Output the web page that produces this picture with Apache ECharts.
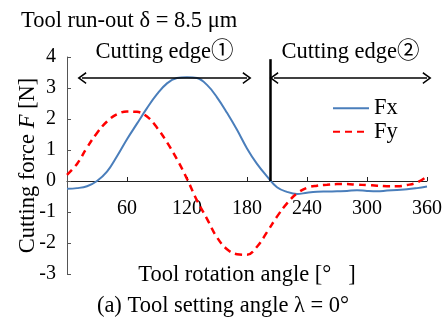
<!DOCTYPE html>
<html>
<head>
<meta charset="utf-8">
<script src="https://cdn.jsdelivr.net/npm/echarts@6/dist/echarts.min.js"></script>
<style>
  html, body { margin: 0; padding: 0; background: #fff; }
  #chart { width: 446px; height: 320px; }
</style>
</head>
<body>
<div id="chart"></div>
<script>
// Tool rotation angle (deg) sampled every 10 deg
const angles = [0, 10, 20, 30, 40, 50, 60, 70, 80, 90, 100, 110, 120, 130, 140, 150, 160, 170, 180,
  190, 200, 210, 220, 230, 240, 250, 260, 270, 280, 290, 300, 310, 320, 330, 340, 350, 360];
// cutting force [N]
const fx = [-0.25, -0.23, -0.17, 0.0, 0.3, 0.8, 1.35, 1.85, 2.35, 2.8, 3.15, 3.32, 3.35, 3.32, 3.1, 2.7, 2.2, 1.65, 1.05,
  0.55, 0.15, -0.2, -0.35, -0.42, -0.38, -0.35, -0.34, -0.33, -0.32, -0.3, -0.32, -0.33, -0.31, -0.29, -0.27, -0.23, -0.18];
const fy = [0.2, 0.55, 1.08, 1.55, 1.92, 2.15, 2.24, 2.23, 2.08, 1.72, 1.25, 0.7, 0.07, -0.63, -1.22, -1.82, -2.2, -2.36, -2.38,
  -2.12, -1.65, -1.15, -0.72, -0.4, -0.22, -0.15, -0.12, -0.1, -0.1, -0.12, -0.13, -0.15, -0.17, -0.17, -0.13, -0.05, 0.15];
const xTicks = [0, 360, 60];   // min, max, interval
const yTicks = [-3, 4, 1];
const edgeChange = 203;          // boundary between cutting edges
const arrowLevel = 3.32;
const edge1 = [15, 180];
const edge2 = [207, 360];

const serif = '"Liberation Serif", "Times New Roman", "Noto Sans CJK JP", serif';
const chevron = 'path://M0,10 L6,0 L12,10 L10.6,10.9 L6,3.2 L1.4,10.9 Z';
const big = 22.5;

const chart = echarts.init(document.getElementById('chart'));

chart.setOption({
  animation: false,
  textStyle: { fontFamily: serif, color: '#000' },
  title: [
    { text: 'Tool run-out δ = 8.5 μm', left: 16, top: 5,
      textStyle: { fontFamily: serif, fontSize: big, fontWeight: 'normal', color: '#000' } },
    { text: '(a) Tool setting angle λ = 0°', left: 'center', top: 290,
      textStyle: { fontFamily: serif, fontSize: big, fontWeight: 'normal', color: '#000' } }
  ],
  legend: {
    orient: 'vertical', left: 327, top: 92, itemWidth: 36, itemHeight: 12, itemGap: 1,
    itemStyle: { opacity: 0 },
    textStyle: { fontFamily: serif, fontSize: big, color: '#000' },
    data: ['Fx', 'Fy']
  },
  grid: { left: 67, right: 19, top: 57, bottom: 46, containLabel: false, outerBoundsMode: 'none' },
  xAxis: {
    type: 'value', min: xTicks[0], max: xTicks[1], interval: xTicks[2],
    position: 'bottom', offset: -93,
    name: 'Tool rotation angle [°   ]', nameLocation: 'middle', nameGap: 83, nameMoveOverlap: false,
    nameTextStyle: { fontFamily: serif, fontSize: big, color: '#000' },
    axisLine: { onZero: false, lineStyle: { color: '#222', width: 1 } },
    axisTick: { inside: true, length: 4, lineStyle: { color: '#222' } },
    axisLabel: { showMinLabel: false, margin: 18, fontFamily: serif, fontSize: 20, color: '#000' },
    splitLine: { show: false }
  },
  yAxis: {
    type: 'value', min: yTicks[0], max: yTicks[1], interval: yTicks[2],
    name: 'Cutting force {i|F} [N]', nameLocation: 'middle', nameGap: 28, nameMoveOverlap: false,
    nameTextStyle: { fontFamily: serif, fontSize: big, color: '#000',
      rich: { i: { fontFamily: serif, fontSize: big, fontStyle: 'italic', color: '#000' } } },
    axisLine: { show: true, lineStyle: { color: '#555', width: 1 } },
    axisTick: { show: true, inside: true, length: 4, lineStyle: { color: '#555' } },
    axisLabel: { margin: 11, fontFamily: serif, fontSize: 20, color: '#000' },
    splitLine: { show: false }
  },
  series: [
    {
      name: 'Fx', type: 'line', smooth: 0.4, symbol: 'none',
      data: angles.map((a, i) => [a, fx[i]]),
      itemStyle: { color: '#4a7ebb' },
      lineStyle: { color: '#4a7ebb', width: 2 },
      markLine: {
        silent: true, symbol: 'none', animation: false,
        lineStyle: { color: '#000', width: 2.5, type: 'solid' },
        label: { show: false },
        data: [[{ coord: [edgeChange, 0] }, { coord: [edgeChange, 3.93] }]]
      }
    },
    {
      name: 'Fy', type: 'line', smooth: 0.4, symbol: 'none',
      data: angles.map((a, i) => [a, fy[i]]),
      itemStyle: { color: '#ff0000' },
      lineStyle: { color: '#ff0000', width: 2.5, type: [7, 5] },
      markLine: {
        silent: true, animation: false,
        symbol: [chevron, chevron], symbolSize: [12, 9],
        lineStyle: { color: '#000', width: 1.5, type: 'solid' },
        label: {
          show: true, position: 'insideMiddleTop', distance: 15,
          fontFamily: serif, fontSize: big, color: '#000'
        },
        data: [
          [{ coord: [edge1[0], arrowLevel], name: 'Cutting edge①' }, { coord: [edge1[1], arrowLevel] }],
          [{ coord: [edge2[0], arrowLevel], name: 'Cutting edge②' }, { coord: [edge2[1], arrowLevel] }]
        ]
      }
    }
  ]
});
</script>
</body>
</html>
